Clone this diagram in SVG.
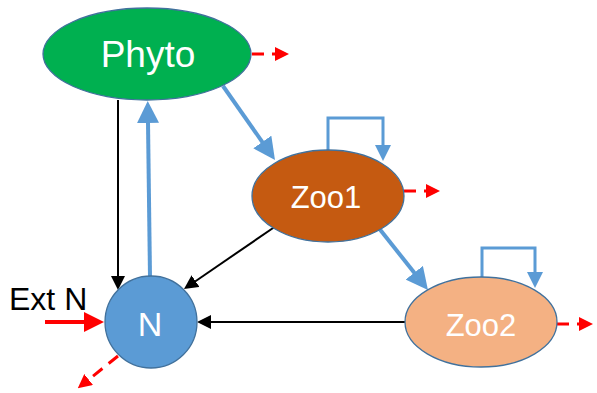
<svg xmlns="http://www.w3.org/2000/svg" width="597" height="393" viewBox="0 0 597 393">
  <style>
    .node { stroke: #41719C; stroke-width: 1.3; }
    .label { font-family: "Liberation Sans", Arial, sans-serif; fill: #ffffff; text-anchor: middle; }
    .blue { stroke: #5B9BD5; stroke-width: 4; fill: none; }
    .loop { stroke: #5B9BD5; stroke-width: 3; fill: none; }
    .black { stroke: #000000; stroke-width: 2; fill: none; }
    .red { stroke: #FF0000; stroke-width: 4; fill: none; }
    .loss { stroke: #FF0000; stroke-width: 3; fill: none; stroke-dasharray: 12 8; }
  </style>
  <defs>
    <marker id="hBlue" markerUnits="userSpaceOnUse" markerWidth="22" markerHeight="22" refX="1" refY="11" orient="auto">
      <path d="M0,0 L22,11 L0,22 z" fill="#5B9BD5"/>
    </marker>
    <marker id="hLoop" markerUnits="userSpaceOnUse" markerWidth="16" markerHeight="16" refX="1" refY="8" orient="auto">
      <path d="M0,0 L16,8 L0,16 z" fill="#5B9BD5"/>
    </marker>
    <marker id="hBlack" markerUnits="userSpaceOnUse" markerWidth="14" markerHeight="14" refX="1" refY="7" orient="auto">
      <path d="M0,0 L14,7 L0,14 z" fill="#000000"/>
    </marker>
    <marker id="hRed" markerUnits="userSpaceOnUse" markerWidth="20" markerHeight="20" refX="1" refY="10" orient="auto">
      <path d="M0,0 L20,10 L0,20 z" fill="#FF0000"/>
    </marker>
    <marker id="hLoss" markerUnits="userSpaceOnUse" markerWidth="14" markerHeight="14" refX="1" refY="7" orient="auto">
      <path d="M0,0 L14,7 L0,14 z" fill="#FF0000"/>
    </marker>
  </defs>

  <g id="connectors">
    <!-- Phyto -> N -->
    <path class="black" d="M118,100 L118,277" marker-end="url(#hBlack)"/>
    <!-- N -> Phyto -->
    <path class="blue" d="M150,277 L148,122" marker-end="url(#hBlue)"/>
    <!-- Phyto -> Zoo1 -->
    <path class="blue" d="M223,86 L262.9,142.8" marker-end="url(#hBlue)"/>
    <!-- Zoo1 self loop -->
    <path class="loop" d="M328,150 V118 H383 V146" marker-end="url(#hLoop)"/>
    <!-- Zoo1 -> N -->
    <path class="black" d="M276,226 L194.7,281.7" marker-end="url(#hBlack)"/>
    <!-- Zoo1 -> Zoo2 -->
    <path class="blue" d="M378,227 L414.9,273.5" marker-end="url(#hBlue)"/>
    <!-- Zoo2 self loop -->
    <path class="loop" d="M482,277 V248 H535 V273" marker-end="url(#hLoop)"/>
    <!-- Zoo2 -> N -->
    <path class="black" d="M406,322 L210,322" marker-end="url(#hBlack)"/>
    <!-- external N input -->
    <path class="red" d="M45,322 L85,322" marker-end="url(#hRed)"/>
    <!-- losses -->
    <path class="loss" d="M252,54 L276,54" marker-end="url(#hLoss)"/>
    <path class="loss" d="M404,191 L427,191" marker-end="url(#hLoss)"/>
    <path class="loss" d="M557,324 L580,324" marker-end="url(#hLoss)"/>
    <path class="loss" d="M118,356 L87.9,380.2" marker-end="url(#hLoss)"/>
  </g>

  <g id="phyto">
    <ellipse class="node" cx="147" cy="54" rx="104" ry="46" fill="#00B050"/>
    <text class="label" x="148" y="67" font-size="37">Phyto</text>
  </g>
  <g id="zoo1">
    <ellipse class="node" cx="328" cy="196" rx="76" ry="46" fill="#C55A11"/>
    <text class="label" x="326" y="208" font-size="31">Zoo1</text>
  </g>
  <g id="zoo2">
    <ellipse class="node" cx="481" cy="322" rx="76" ry="45" fill="#F4B183"/>
    <text class="label" x="481" y="336" font-size="31">Zoo2</text>
  </g>
  <g id="n">
    <circle class="node" cx="151" cy="322" r="46" fill="#5B9BD5"/>
    <text class="label" x="150" y="336" font-size="34">N</text>
  </g>
  <g id="ext-n">
    <text x="9" y="310" font-family="Liberation Sans, Arial, sans-serif" font-size="32" fill="#000000">Ext N</text>
  </g>
</svg>
